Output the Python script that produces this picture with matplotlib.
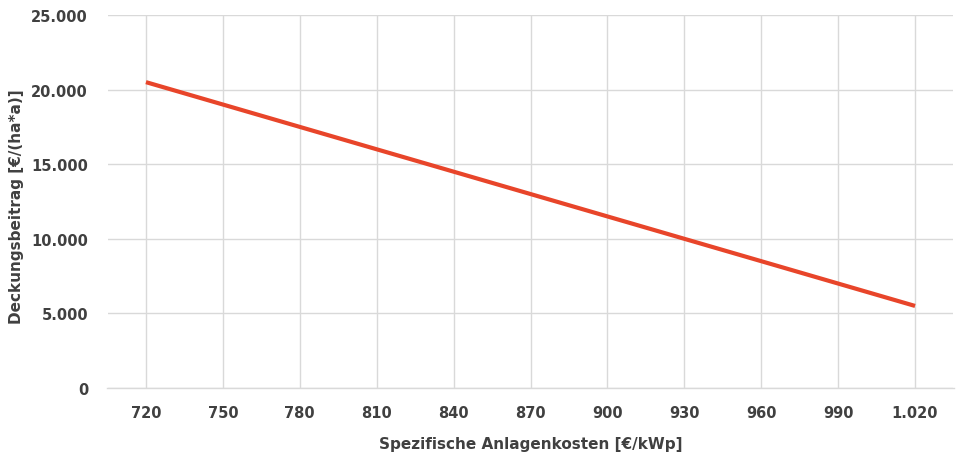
import matplotlib

matplotlib.use("Agg")
import matplotlib.pyplot as plt
from matplotlib.ticker import FuncFormatter

# Spezifische Anlagenkosten [€/kWp] vs. Deckungsbeitrag [€/(ha*a)]
kosten = [720, 750, 780, 810, 840, 870, 900, 930, 960, 990, 1020]
deckungsbeitrag = [20500, 19000, 17500, 16000, 14500, 13000, 11500, 10000, 8500, 7000, 5500]
y_ticks = [0, 5000, 10000, 15000, 20000, 25000]

TEXT = "#404040"
GRID = "#d9d9d9"

plt.rcParams["font.family"] = ["DejaVu Sans"]


def de_num(v, _pos=None):
    return f"{int(v):,}".replace(",", ".")


fig = plt.figure(figsize=(9.57, 4.56), dpi=100)
ax = fig.add_axes([107.5 / 957, 1 - 389 / 456, (953.5 - 107.5) / 957, (389 - 16) / 456])

pos = list(range(len(kosten)))
ax.plot(pos, deckungsbeitrag, color="#E8452A", linewidth=3.0, solid_capstyle="butt", zorder=3)

ax.set_xlim(-0.5, len(kosten) - 0.5)
ax.set_ylim(0, 25000)
ax.set_xticks(pos)
ax.set_xticklabels([de_num(k) for k in kosten])
ax.set_yticks(y_ticks)
ax.yaxis.set_major_formatter(FuncFormatter(de_num))

ax.grid(True, color=GRID, linewidth=1.0, zorder=0)
for s in ["top", "right", "left"]:
    ax.spines[s].set_visible(False)
ax.spines["bottom"].set_color(GRID)
ax.spines["bottom"].set_linewidth(1.0)
ax.tick_params(length=0, labelsize=10.5, labelcolor=TEXT)
ax.tick_params(axis="x", pad=12)
ax.tick_params(axis="y", pad=14)
for lbl in ax.get_xticklabels() + ax.get_yticklabels():
    lbl.set_fontweight("bold")

ax.set_xlabel("Spezifische Anlagenkosten [€/kWp]", fontsize=11, fontweight="bold",
              color=TEXT, labelpad=12)
ax.set_ylabel("Deckungsbeitrag [€/(ha*a)]", fontsize=11, fontweight="bold",
              color=TEXT)
ax.yaxis.set_label_coords(-84 / 846, 0.49)

fig.savefig("out.png", dpi=100)
